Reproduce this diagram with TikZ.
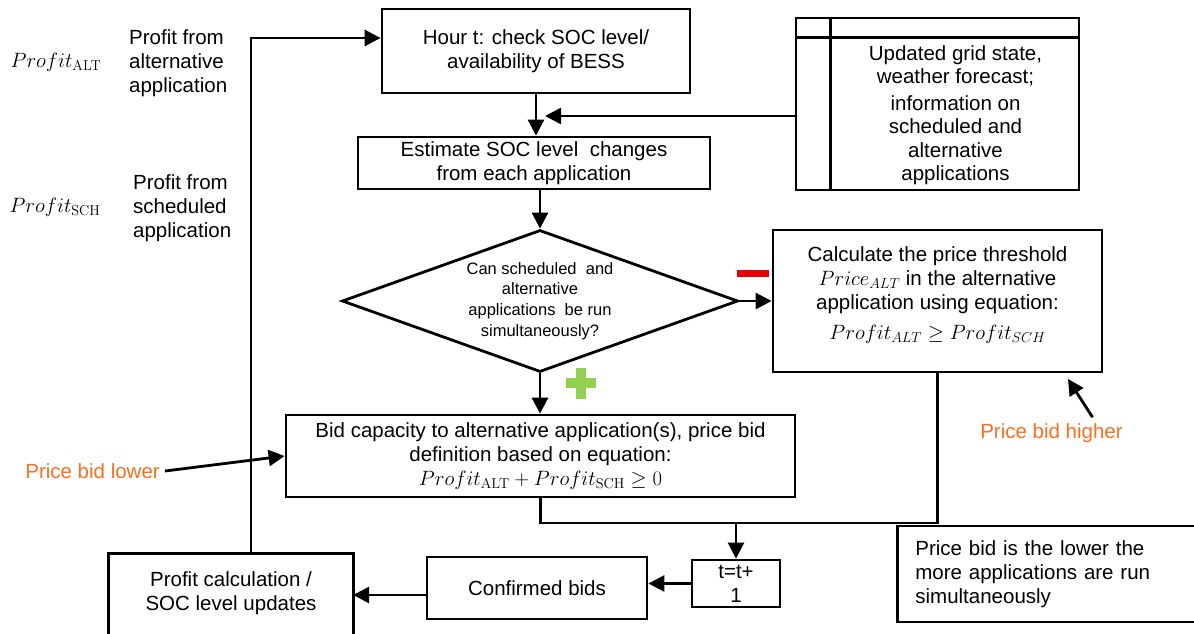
\documentclass[tikz,border=0pt]{standalone}
\usepackage[no-math]{fontspec}
\setmainfont{Liberation Sans}
\usetikzlibrary{arrows.meta,shapes.geometric}
\definecolor{bidorange}{RGB}{250,112,30}
\definecolor{minusred}{RGB}{235,0,0}
\definecolor{plusgreen}{RGB}{146,208,80}
\newcommand{\mainfs}{\fontsize{20.5}{24}\selectfont}
\newcommand{\smallfs}{\fontsize{16.5}{20.7}\selectfont}
\tikzset{
  box/.style={draw, line width=2.8pt, align=center, inner sep=0pt, font=\mainfs},
  plain/.style={inner sep=0pt, align=center, font=\mainfs},
  link/.style={line width=2.8pt},
  arrow/.style={line width=2.8pt, -{Triangle[length=16pt,width=16pt]}},
}
\begin{document}
\begin{tikzpicture}[x=1pt,y=-1pt]
\useasboundingbox (0,0) rectangle (1194,634);

% legend on the left
\node[plain] (altsym) at (56,62) {$Profit_{\mathrm{ALT}}$};
\node[plain, anchor=west, align=left] (altdesc) at (129,63) {Profit from\\alternative\\application};
\node[plain] (schsym) at (55,207) {$Profit_{\mathrm{SCH}}$};
\node[plain, anchor=west, align=left] (schdesc) at (133,208) {Profit from\\scheduled\\application};

% process boxes
\node[box, minimum width=308pt, minimum height=84pt] (hour) at (536,51)
  {Hour t: check SOC level/\\availability of BESS};
\node[box, minimum width=283pt, minimum height=172pt] (info) at (937.5,104) {};
\draw[link] ([xshift=36pt]info.north west) -- ([xshift=36pt]info.south west);
\draw[link] ([yshift=-21pt]info.north west) -- ([yshift=-21pt]info.north east);
\node[plain, font={\fontsize{20.5}{23.5}\selectfont}] (infotxt) at (955.5,115)
  {Updated grid state,\\ weather forecast;\\[3pt] information on\\ scheduled and\\ alternative\\ applications};
\node[box, minimum width=352pt, minimum height=52pt] (est) at (534,163)
  {Estimate SOC level\ \ changes\\from each application};
\node[draw, diamond, line width=2.8pt, inner sep=0pt, minimum width=396pt, minimum height=142pt] (dec) at (540,301) {};
\node[plain, font=\smallfs] (dectxt) at (540,301)
  {Can scheduled\ \ and\\ alternative\\ applications\ \ be run\\ simultaneously?};
\node[box, minimum width=329pt, minimum height=142pt] (calc) at (937.5,301) {};
\node[plain] (calctxt) at (937.5,295)
  {Calculate the price threshold\\ $Price_{ALT}$ in the alternative\\ application using equation:\\[6pt] $Profit_{ALT} \geq Profit_{SCH}$};
\node[box, minimum width=509pt, minimum height=82pt] (bid) at (540.5,456)
  {Bid capacity to alternative application(s), price bid\\ definition based on equation:\\ $Profit_{\mathrm{ALT}} + Profit_{\mathrm{SCH}} \geq 0$};
\node[box, anchor=west, minimum height=96pt, text width=270pt, inner xsep=18pt, align=left] (note) at (896,574)
  {Price bid is the lower the\\ more applications are run\\ simultaneously};
\node[box, minimum width=88pt, minimum height=47pt] (tbox) at (736,583.5) {t=t+\\1};
\node[box, minimum width=220pt, minimum height=62pt] (conf) at (537,588) {Confirmed bids};
\node[plain, minimum width=244pt, minimum height=79pt] (pcalc) at (231,593.5)
  {Profit calculation /\\SOC level updates};
\draw[link] ([yshift=-60pt]pcalc.south west) |- (pcalc.north east) -- ([yshift=-60pt]pcalc.south east);

% price bid annotations
\node[plain, text=bidorange, anchor=east] (lowlbl) at (160,471) {Price bid lower};
\node[plain, text=bidorange] (hilbl) at (1051.5,433) {Price bid higher};
\coordinate (hitip) at (1068,379);
\draw[arrow] ([xshift=5pt]lowlbl.east) -- (bid.west);
\draw[arrow] ([xshift=41pt,yshift=6pt]hilbl.north) -- (hitip);

% decision signs
\fill[minusred] (737,270) rectangle (769,277);
\fill[plusgreen] (566,378) rectangle (596,388);
\fill[plusgreen] (576,368) rectangle (586,399);

% connectors
\draw[arrow] ([xshift=20pt]pcalc.north) |- ([yshift=13pt]hour.west);
\draw[arrow] (hour.south) -- (hour.south |- est.north);
\coordinate (infojoin) at (545,116);
\draw[arrow] (info.west |- infojoin) -- (infojoin);
\draw[arrow] (est.south -| dec.north) -- (dec.north);
\draw[arrow] (dec.east) -- (calc.west);
\draw[arrow] (dec.south) -- (dec.south |- bid.north);
\coordinate (merge) at (736,523);
\draw[link] (bid.south) |- (calc.south |- merge) -- (calc.south);
\draw[arrow] (merge) -- (tbox.north);
\draw[arrow] (tbox.west) -- (conf.east |- tbox.west);
\path ([yshift=-7pt]conf.west) coordinate (confout);
\draw[arrow] (confout) -- (confout -| pcalc.east);
\end{tikzpicture}
\end{document}
